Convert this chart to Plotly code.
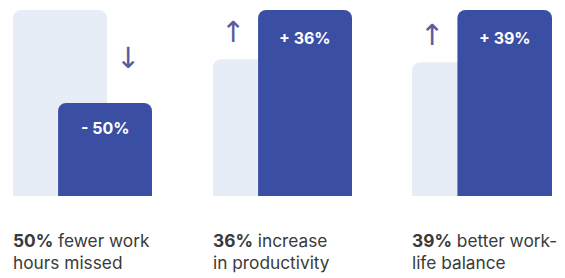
import plotly.graph_objects as go

# ---- data ----
metrics = ["Work hours missed", "Productivity", "Work-life balance"]
before_values = [100, 100, 100]
after_values = [50, 136, 139]
change_labels = ["- 50%", "+ 36%", "+ 39%"]
change_arrows = ["↓", "↑", "↑"]
caption_bold = ["50%", "36%", "39%"]
caption_rest = [" fewer work<br>hours missed", " increase<br>in productivity", " better work-<br>life balance"]

# ---- style ----
PAGE_OFF = 8                      # default body margin of the html page
W, H = 565 - PAGE_OFF, 278 - PAGE_OFF
LIGHT = "#E7EDF6"
DARK = "#3A4EA4"
ARROW = "#5B5B9E"
TEXT = "#3A3A3A"
FONT = "Inter"

panel_px = [(13, 152), (213, 352), (412, 552)]   # screen px
panel_px = [(a - PAGE_OFF, b - PAGE_OFF) for a, b in panel_px]
bar_top_px, bar_bot_px = 10 - PAGE_OFF, 196 - PAGE_OFF
caption_top_px = 228 - PAGE_OFF
x_before, x_after, bar_w = 0.0, 0.48, 1.0
xrange = [-0.5, 0.98]

fig = go.Figure()
for i in range(3):
    xa = "x" if i == 0 else f"x{i+1}"
    ya = "y" if i == 0 else f"y{i+1}"
    fig.add_trace(go.Bar(x=[x_before], y=[before_values[i]], width=[bar_w],
                         marker=dict(color=LIGHT, cornerradius=8, line=dict(width=0)),
                         xaxis=xa, yaxis=ya, hoverinfo="skip", showlegend=False))
    fig.add_trace(go.Bar(x=[x_after], y=[after_values[i]], width=[bar_w],
                         marker=dict(color=DARK, cornerradius=8, line=dict(width=0)),
                         xaxis=xa, yaxis=ya, hoverinfo="skip", showlegend=False))

    # change label inside the dark bar
    fig.add_annotation(x=x_after, y=after_values[i], xref=xa, yref=ya,
                       text=f"<b>{change_labels[i]}</b>", showarrow=False,
                       yshift=-28 if i else -25, font=dict(family=FONT, size=16, color="white"))

    # arrow glyph
    if i == 0:
        ax_x, ax_y, anchor, ys = 0.72, before_values[i] * 0.74, "middle", 0
    else:
        ax_x, ax_y, anchor, ys = -0.29, before_values[i], "bottom", 8
    fig.add_annotation(x=ax_x, y=ax_y, xref=xa, yref=ya, text=change_arrows[i],
                       showarrow=False, yanchor=anchor, yshift=ys,
                       font=dict(family="DejaVu Sans", size=29, color=ARROW))

    # caption below
    fig.add_annotation(x=panel_px[i][0] / W, y=1 - caption_top_px / H, xref="paper", yref="paper",
                       xanchor="left", yanchor="top", align="left", showarrow=False,
                       xshift=-2,
                       text=f"<b>{caption_bold[i]}</b>{caption_rest[i]}",
                       font=dict(family=FONT, size=17.3, color=TEXT))

layout = dict(width=W, height=H, margin=dict(l=0, r=0, t=0, b=0),
              paper_bgcolor="white", plot_bgcolor="white", barmode="overlay",
              font=dict(family=FONT))
for i in range(3):
    sfx = "" if i == 0 else str(i + 1)
    layout[f"xaxis{sfx}"] = dict(domain=[panel_px[i][0] / W, panel_px[i][1] / W],
                                  range=xrange, visible=False, fixedrange=True,
                                  anchor=f"y{sfx}")
    layout[f"yaxis{sfx}"] = dict(domain=[1 - bar_bot_px / H, 1 - bar_top_px / H],
                                  range=[0, max(before_values[i], after_values[i])],
                                  visible=False, fixedrange=True, anchor=f"x{sfx}")
fig.update_layout(**layout)
fig.write_html("out.html", config={"displayModeBar": False})
